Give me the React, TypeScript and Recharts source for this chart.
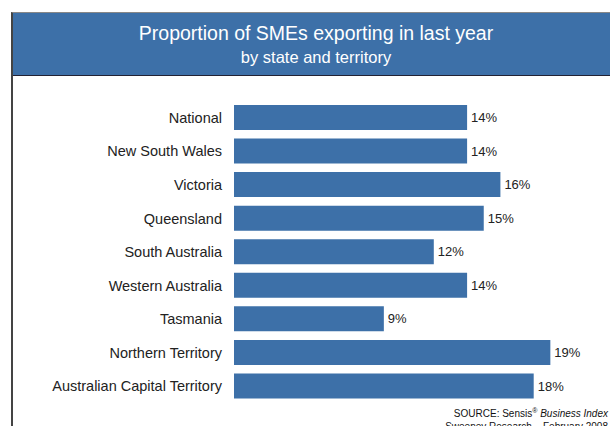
import { BarChart, Bar, XAxis, YAxis, LabelList } from 'recharts';

const regions = [
  'National',
  'New South Wales',
  'Victoria',
  'Queensland',
  'South Australia',
  'Western Australia',
  'Tasmania',
  'Northern Territory',
  'Australian Capital Territory',
];
const exporting = [14, 14, 16, 15, 12, 14, 9, 19, 18];

const data = regions.map((name, i) => ({ name, value: exporting[i] }));

const BLUE = '#3d70a8';
const FONT = '"Liberation Sans", Arial, sans-serif';

const App = () => {
  return (
    <div style={{ position: 'absolute', left: 0, top: 0, width: 610, height: 426, overflow: 'hidden', background: '#fff', fontFamily: FONT }}>
      {/* frame */}
      <div style={{ position: 'absolute', left: 11, top: 12, width: 640, height: 500, borderLeft: '2px solid #444', borderTop: '1px solid #888', boxSizing: 'border-box' }} />
      {/* header band */}
      <div style={{ position: 'absolute', left: 13, top: 13, width: 620, height: 62, background: BLUE, borderBottom: '1px solid #223' }} />
      <div style={{ position: 'absolute', left: 11, top: 20, width: 610, textAlign: 'center', color: '#fff', fontSize: 19.5, lineHeight: '26px' }}>
        Proportion of SMEs exporting in last year
      </div>
      <div style={{ position: 'absolute', left: 11, top: 47, width: 610, textAlign: 'center', color: '#fff', fontSize: 16.5, lineHeight: '21px' }}>
        by state and territory
      </div>

      <div style={{ position: 'absolute', left: 11, top: 76 }}>
        <BarChart width={600} height={350} data={data} layout="vertical" margin={{ top: 25, right: 44, bottom: 23, left: 0 }}>
          <XAxis type="number" domain={[0, 20]} hide />
          <YAxis
            type="category"
            dataKey="name"
            width={223}
            axisLine={false}
            tickLine={false}
            tickSize={0}
            tickMargin={12}
            tick={{ fill: '#222', fontSize: 14.5, fontFamily: FONT }}
          />
          <Bar dataKey="value" fill={BLUE} barSize={25} isAnimationActive={false}>
            <LabelList
              dataKey="value"
              position="right"
              offset={4}
              formatter={(v: any) => `${v}%`}
              style={{ fill: '#222', fontSize: 13, fontFamily: FONT }}
            />
          </Bar>
        </BarChart>
      </div>

      {/* source note */}
      <div style={{ position: 'absolute', right: 2, top: 404, textAlign: 'right', color: '#111', fontSize: 10, lineHeight: '13px' }}>
        SOURCE: Sensis<sup style={{ fontSize: 7 }}>®</sup> <i>Business Index</i>
        <br />
        Sweeney Research – February 2008
      </div>
    </div>
  );
};

export default App;
